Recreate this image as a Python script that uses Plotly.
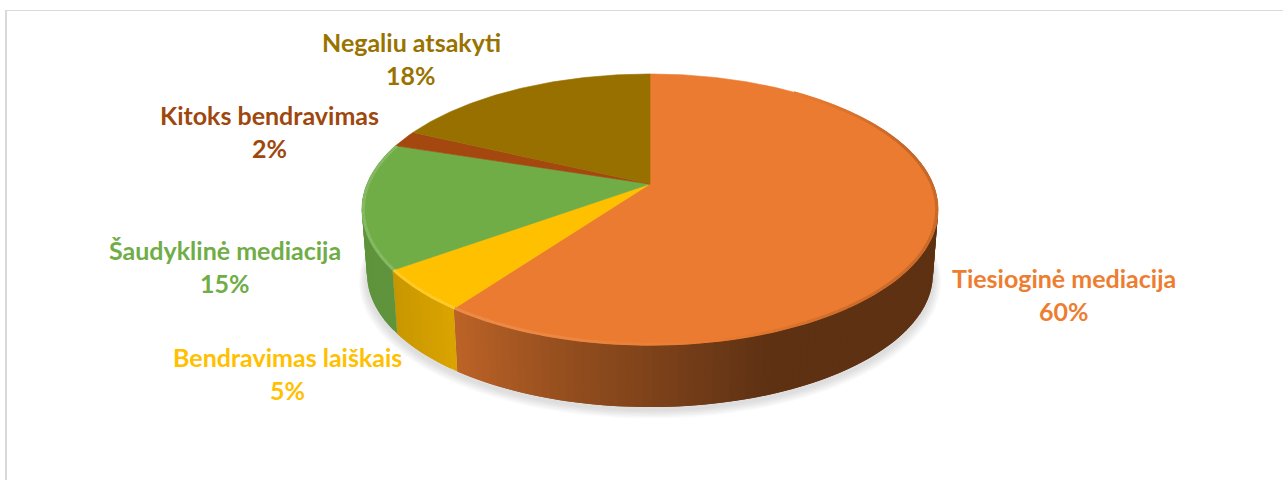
import numpy as np
import plotly.graph_objects as go

categories = ["Tiesioginė mediacija", "Bendravimas laiškais", "Šaudyklinė mediacija", "Kitoks bendravimas", "Negaliu atsakyti"]
values = [60, 5, 15, 2, 18]
colors = ["#EA7B30", "#FFC000", "#70AD47", "#A5480F", "#977000"]
label_colors = ["#ED7D31", "#FFC000", "#70AD47", "#9E480E", "#997300"]
label_x = [1064, 287, 225, 269, 411]
label_y = [278, 357, 250, 115, 42]

CX, CY, A, B, C = 650, 184, 283, 130.7, 0.188
DEPTH_SCALE, DEPTH = 0.982, 65


def rim(frac, scale=1.0, dy=0.0):
    t = 2 * np.pi * np.asarray(frac, dtype=float)
    u, v = np.sin(t), np.cos(t)
    den = 1 + C * v
    return CX + scale * A * u / den, CY - scale * B * v / den + dy


def rgb(hexcol, f):
    c = [int(hexcol[i:i + 2], 16) for i in (1, 3, 5)]
    if f <= 1:
        c = [round(x * f) for x in c]
    else:
        c = [round(x + (255 - x) * (f - 1)) for x in c]
    return f"rgb({c[0]},{c[1]},{c[2]})"


def poly(x, y, color, opacity=1.0, width=0.0):
    return go.Scatter(x=list(x), y=list(y), mode="lines", fill="toself", fillcolor=color,
                      line=dict(width=width, color=color), opacity=opacity,
                      hoverinfo="skip", showlegend=False)


fig = go.Figure()

# soft shadow under the pie
ring = np.linspace(0, 1, 181)
for i in range(7):
    sx, sy = rim(ring, DEPTH_SCALE + 0.004 * (7 - i), DEPTH + 7 - i * 0.6)
    fig.add_trace(poly(sx, sy, "#808080", 0.045))

total = sum(values)
edges = np.cumsum([0] + values) / total

# side wall: painted left to right in slice order, each strip running under the next
wall_start, wall_end = 0.16, 0.80
for i, c in enumerate(colors):
    lo, hi = max(edges[i], wall_start), min(edges[i + 1], wall_end)
    if hi <= lo:
        continue
    steps = max(2, int((hi - lo) / 0.004))
    ts = np.linspace(lo, hi, steps + 1)
    step = ts[1] - ts[0]
    for a in ts[:-1]:
        b = min(a + 2 * step, hi)
        xa, ya = rim([a, b])
        xb, yb = rim([b, a], DEPTH_SCALE, DEPTH)
        mid = float(rim(a + step / 2)[0])
        if i == 0:
            f = np.interp(mid, [456, 560, 650, 770], [0.80, 0.64, 0.54, 0.40])
        elif i == 1:
            f = np.interp(mid, [390, 456], [0.78, 0.86])
        else:
            f = 0.85
        fig.add_trace(poly(list(xa) + list(xb), list(ya) + list(yb), rgb(c, f)))

# top slices
for i, c in enumerate(colors):
    ts = np.linspace(edges[i], edges[i + 1], max(3, int(values[i] * 6)))
    x, y = rim(ts)
    fig.add_trace(poly([CX] + list(x) + [CX], [CY] + list(y) + [CY], c, width=0.6))

# bevel on the rim
for i, c in enumerate(colors[:3]):
    lo, hi = edges[i], edges[i + 1]
    if i == 0:
        lo = 0.10
    ts = np.linspace(lo, hi, max(3, int((hi - lo) / 0.006)))
    for a, b in zip(ts[:-1], ts[1:]):
        xa, ya = rim([a, b], 0.995)
        if i == 0:
            f = np.interp((a + b) / 2, [0.10, 0.20, 0.40, 0.47, 0.55, 0.60], [1.0, 0.84, 0.88, 1.0, 1.10, 1.12])
        elif i == 1:
            f = 1.15
        else:
            f = 1.15
        fig.add_trace(go.Scatter(x=xa, y=ya, mode="lines", line=dict(color=rgb(c, f), width=3),
                                 hoverinfo="skip", showlegend=False))

annotations = []
for name, v, col, lx, ly in zip(categories, values, label_colors, label_x, label_y):
    annotations.append(dict(x=lx, y=ly, text=f"<b>{name}</b>", showarrow=False,
                            font=dict(family="Lato", size=25, color=col)))
    annotations.append(dict(x=lx, y=ly + 33, text=f"<b>{v}%</b>", showarrow=False,
                            font=dict(family="Lato", size=25, color=col)))

fig.update_layout(
    width=1283, height=480, margin=dict(l=0, r=0, t=0, b=0),
    paper_bgcolor="white", plot_bgcolor="white", showlegend=False,
    xaxis=dict(range=[0, 1283], visible=False, fixedrange=True),
    yaxis=dict(range=[480, 0], visible=False, fixedrange=True),
    annotations=annotations,
    shapes=[
        dict(type="line", x0=5, x1=1283, y0=10.5, y1=10.5, line=dict(color="#D9D9D9", width=1)),
        dict(type="line", x0=6, x1=6, y0=10, y1=480, line=dict(color="#D9D9D9", width=2)),
    ],
)
fig.write_html("out.html", config={"displayModeBar": False},
               post_script="document.body.style.margin='0';document.body.style.overflow='hidden';")
